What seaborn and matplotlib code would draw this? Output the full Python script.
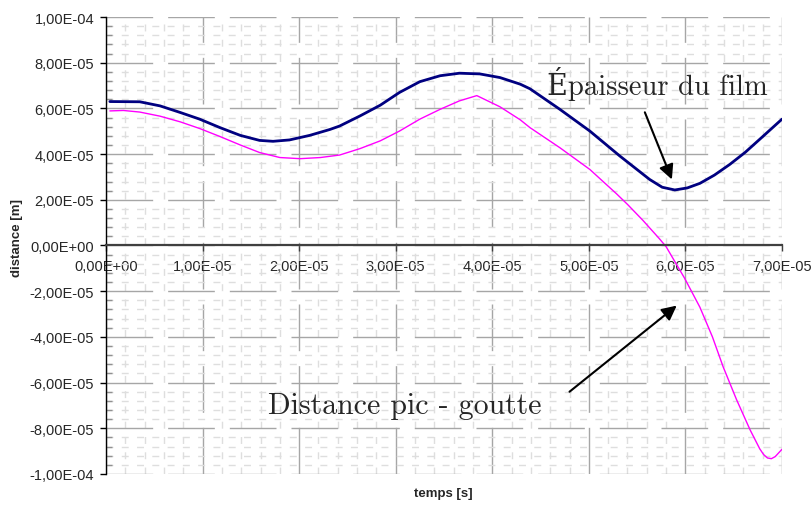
import numpy as np
import pandas as pd
import matplotlib
matplotlib.use("Agg")
import matplotlib.pyplot as plt
import seaborn as sns
from matplotlib.ticker import MultipleLocator, FuncFormatter

# values, in units of 1e-5 (time in s, distance in m)
t_film = [0.04, 0.35, 0.56, 0.77, 0.97, 1.18, 1.39, 1.59, 1.73, 1.90, 2.11, 2.32,
          2.42, 2.63, 2.84, 3.04, 3.25, 3.46, 3.66, 3.87, 4.08, 4.29, 4.39, 4.70,
          5.01, 5.32, 5.63, 5.76, 5.89, 6.02, 6.15, 6.30, 6.46, 6.62, 6.77, 7.00]
ep_film = [6.30, 6.29, 6.11, 5.82, 5.53, 5.16, 4.82, 4.60, 4.56, 4.62, 4.82, 5.08,
           5.23, 5.67, 6.14, 6.70, 7.17, 7.43, 7.54, 7.51, 7.35, 7.06, 6.86, 5.96,
           5.01, 3.92, 2.89, 2.55, 2.43, 2.52, 2.72, 3.08, 3.55, 4.08, 4.65, 5.53]

t_pic = [0.04, 0.18, 0.35, 0.56, 0.77, 0.97, 1.18, 1.39, 1.59, 1.80, 2.01, 2.22,
         2.42, 2.63, 2.84, 3.04, 3.25, 3.46, 3.66, 3.84, 4.08, 4.29, 4.39, 4.70,
         5.01, 5.29, 5.40, 5.56, 5.73, 5.80, 5.99, 6.15, 6.28, 6.39, 6.53, 6.67,
         6.77, 6.81, 6.85, 6.89, 6.93, 7.00]
d_pic = [5.89, 5.91, 5.84, 5.66, 5.41, 5.12, 4.77, 4.40, 4.07, 3.85, 3.80, 3.85,
         3.96, 4.24, 4.58, 5.01, 5.53, 5.96, 6.33, 6.56, 6.07, 5.50, 5.16, 4.28,
         3.33, 2.25, 1.80, 1.10, 0.30, -0.05, -1.42, -2.70, -4.00, -5.30, -6.75, -8.07,
         -8.90, -9.15, -9.30, -9.33, -9.24, -8.92]

SCALE = 1e-5

label_film = "Épaisseur du film"
label_pic = "Distance pic - goutte"

film = pd.DataFrame({"t": np.array(t_film) * SCALE, "d": np.array(ep_film) * SCALE})
pic = pd.DataFrame({"t": np.array(t_pic) * SCALE, "d": np.array(d_pic) * SCALE})

sns.set_style("white")
plt.rcParams["font.family"] = ["Liberation Sans", "DejaVu Sans"]

fig = plt.figure(figsize=(8.11, 5.06), dpi=100)
ax = fig.add_axes([0.1307, 0.0613, 0.8335, 0.9031])

sns.lineplot(data=film, x="t", y="d", color="#000080", lw=2, ax=ax)
sns.lineplot(data=pic, x="t", y="d", color="#ff00ff", lw=1, ax=ax)

ax.set_xlim(0, 7e-5)
ax.set_ylim(-1e-4, 1e-4)
ax.set_xlabel("")
ax.set_ylabel("")

# excel-like grid
ax.xaxis.set_major_locator(MultipleLocator(1e-5))
ax.xaxis.set_minor_locator(MultipleLocator(2e-6))
ax.yaxis.set_major_locator(MultipleLocator(2e-5))
ax.yaxis.set_minor_locator(MultipleLocator(4e-6))
ax.set_axisbelow(True)
ax.grid(which="major", color="#a6a6a6", lw=1, linestyle=(0, (33.6, 10.8)))
ax.grid(which="minor", color="#dedede", lw=1, linestyle=(0, (5, 6)))


def sci_comma(v, pos):
    if abs(v) < 1e-12:
        v = 0.0
    return f"{v:.2E}".replace(".", ",")


fmt = FuncFormatter(sci_comma)
ax.xaxis.set_major_formatter(fmt)
ax.yaxis.set_major_formatter(fmt)

ax.spines["top"].set_visible(False)
ax.spines["right"].set_visible(False)
ax.spines["bottom"].set_position(("data", 0))
ax.spines["bottom"].set_color("#404040")
ax.spines["bottom"].set_linewidth(1.6)
ax.spines["left"].set_color("black")
ax.spines["left"].set_linewidth(1)

ax.tick_params(axis="x", which="major", direction="out", length=4, width=1,
               color="#404040", labelsize=10.5, pad=5.5, bottom=True)
ax.tick_params(axis="x", which="minor", length=0)
ax.tick_params(axis="y", which="major", direction="out", length=4, width=1,
               color="black", labelsize=10.5, pad=4.5, left=True)
ax.tick_params(axis="y", which="minor", direction="in", length=4, width=1,
               color="#909090", left=True)

serif = ["cmr10", "DejaVu Serif"]
ax.text(4.57e-5, 6.62e-5, label_film, family=serif, fontsize=20.6,
        ha="left", va="baseline")
ax.text(1.68e-5, -7.32e-5, label_pic, family=serif, fontsize=21.5,
        ha="left", va="baseline")

arrow = dict(arrowstyle="-|>", color="black", lw=1.5, mutation_scale=22,
             shrinkA=0, shrinkB=0)
ax.annotate("", xy=(5.86e-5, 2.89e-5), xytext=(5.58e-5, 5.83e-5), arrowprops=arrow)
ax.annotate("", xy=(5.91e-5, -2.63e-5), xytext=(4.80e-5, -6.40e-5), arrowprops=arrow)

fig.text(17 / 811, 1 - 238 / 506, "distance [m]", rotation=90, fontweight="bold",
         fontsize=9.5, ha="center", va="center")
fig.text(443 / 811, 1 - 494 / 506, "temps [s]", fontweight="bold",
         fontsize=9.5, ha="center", va="center")

fig.savefig("out.png", dpi=100)
